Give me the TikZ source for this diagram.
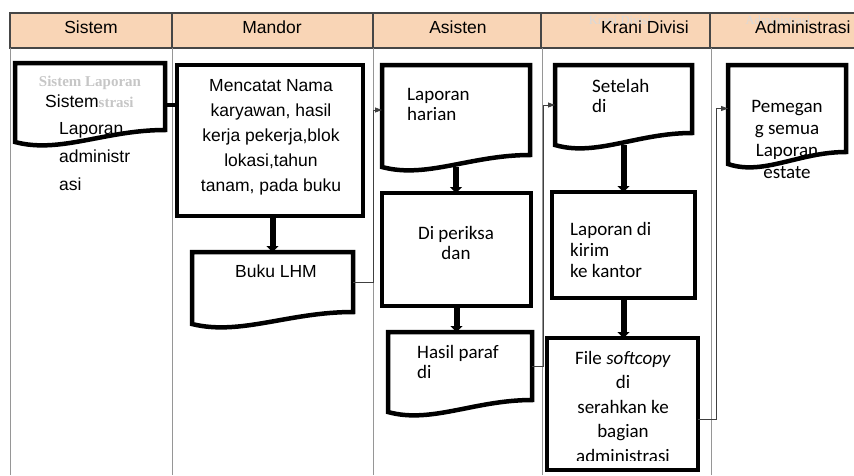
\documentclass[tikz,border=0pt]{standalone}
\usepackage{fontspec}
\setmainfont{Liberation Sans}
\newfontfamily\calfont{Carlito}
\newfontfamily\ghostfont{Liberation Serif}
\usetikzlibrary{positioning,calc,arrows.meta}

\definecolor{headfill}{RGB}{249,213,182}
\definecolor{laneline}{RGB}{150,150,150}
\definecolor{headline}{RGB}{70,70,70}

\tikzset{
  procbox/.style={draw, line width=4.5pt, rectangle, inner sep=0pt, outer sep=0pt},
  docnode/.style={rectangle, inner sep=0pt, outer sep=0pt},
  shapeline/.style={line width=4.5pt},
  bigarrow/.style={line width=6pt, -{Triangle[length=6pt,width=12pt]}},
  flowline/.style={line width=0.8pt, draw=black!75, -{Triangle[length=7pt,width=5pt]}},
  headtxt/.style={font=\fontsize{17.5}{20}\selectfont, inner sep=0pt},
  arialtxt/.style={font=\fontsize{17.5}{25}\selectfont, inner sep=0pt},
  caltxt/.style={font=\calfont\fontsize{19}{21}\selectfont, inner sep=0pt},
  ghosttxt/.style={font=\ghostfont\bfseries\fontsize{15}{17}\selectfont, text=gray!45, inner sep=0pt},
  ghostsmall/.style={font=\ghostfont\fontsize{12.5}{14}\selectfont, text=gray!30, inner sep=0pt}
}

% outline of a document symbol round an empty node
\newcommand{\docoutline}[1]{%
  \draw[shapeline] (#1.north west) -- (#1.north east) -- (#1.south east)
    .. controls ($(#1.south west)!0.6!(#1.south east)$) and ($(#1.south west)!0.3!(#1.south east)+(0pt,-24pt)$)
    .. ([yshift=-12pt]#1.south west) -- cycle;}

\begin{document}
\begin{tikzpicture}[x=1pt, y=-1pt]
  \useasboundingbox (0,0) rectangle (854,475);

  % lanes
  \fill[headfill] (10,13) rectangle (854,48);
  \draw[headline, line width=1.3pt] (854,13) -- (10,13) -- (10,48) -- (854,48);
  \foreach \lx in {172,373,541,710}
    \draw[headline, line width=1.3pt] (\lx,13) -- (\lx,48);
  \foreach \lx in {10,172,373,542,711}
    \draw[laneline, line width=0.9pt] (\lx,48) -- (\lx,475);

  \node[ghostsmall] (ghkra) at (620,20) {Krani Divisi};
  \node[ghostsmall] (ghadm) at (778,20) {Administrasi};
  \node[headtxt] (hsis) at (91,27) {Sistem};
  \node[headtxt] (hman) at (272,27) {Mandor};
  \node[headtxt] (hasi) at (458,27) {Asisten};
  \node[headtxt] (hkra) at (645,27) {Krani Divisi};
  \node[headtxt, anchor=west] (hadm) at (755,27) {Administrasi};

  % Sistem
  \node[docnode, minimum width=150pt, minimum height=67pt] (sis) at (90,96.5) {};
  \docoutline{sis}
  \node[ghosttxt] (ghsis1) at (90,83) {Sistem Laporan};
  \node[ghosttxt] (ghsis2) at (92,102) {Administrasi};
  \node[arialtxt, fill=white, anchor=north west] (sistxt) at (45,95) {Sistem};
  \node[arialtxt, font=\fontsize{17.5}{28}\selectfont, align=left, anchor=north west] (sistxt2) at (59,122) {Laporan\\administr\\asi};

  % Mandor
  \node[procbox, minimum width=186pt, minimum height=151pt] (mencatat) at (270,140.5) {};
  \node[arialtxt, align=center, anchor=north] (mencatatt) at (271,79)
    {Mencatat Nama\\karyawan, hasil\\kerja pekerja,blok\\lokasi,tahun\\tanam, pada buku};
  \node[docnode, minimum width=161pt, minimum height=60pt] (buku) at (272.5,282) {};
  \docoutline{buku}
  \node[arialtxt, anchor=north] (bukut) at (276,265) {Buku LHM};

  % Asisten
  \node[docnode, minimum width=148pt, minimum height=90pt] (harian) at (456,110) {};
  \docoutline{harian}
  \node[caltxt, font=\calfont\fontsize{19}{20}\selectfont, align=left, anchor=north west] (hariant) at (407,88) {Laporan\\harian};
  \node[procbox, minimum width=149pt, minimum height=113pt] (periksa) at (456.5,249.5) {};
  \node[caltxt, font=\calfont\fontsize{19}{20}\selectfont, align=center, anchor=north] (periksat) at (456,226) {Di periksa\\dan};
  \node[docnode, minimum width=144pt, minimum height=68pt] (hasil) at (460,366) {};
  \docoutline{hasil}
  \node[caltxt, font=\calfont\fontsize{19}{20}\selectfont, align=left, anchor=north west] (hasilt) at (417,345) {Hasil paraf\\di};

  % Krani Divisi
  \node[docnode, minimum width=137pt, minimum height=68pt] (setelah) at (623.5,99) {};
  \docoutline{setelah}
  \node[caltxt, font=\calfont\fontsize{19}{20}\selectfont, align=left, anchor=north west] (setelaht) at (592,79) {Setelah\\di};
  \node[procbox, minimum width=143pt, minimum height=106pt] (kirim) at (623.5,245) {};
  \node[caltxt, align=left, anchor=north west] (kirimt) at (570,222) {Laporan di\\kirim\\ke kantor};
  \node[procbox, minimum width=151pt, minimum height=132pt] (file) at (622.5,404) {};
  \begin{scope}
    \clip (file.north west) rectangle ([yshift=10pt]file.south east);
    \node[caltxt, font=\calfont\fontsize{19}{24.5}\selectfont, align=center, anchor=north] (filet) at (623,351)
      {File \textit{softcopy}\\di\\serahkan ke\\bagian\\administrasi};
  \end{scope}

  % Administrasi
  \node[docnode, minimum width=118pt, minimum height=87pt] (pemegang) at (787,108.5) {};
  \docoutline{pemegang}
  \node[caltxt, font=\calfont\fontsize{19}{22}\selectfont, align=center, anchor=north] (pemegangt) at (787,100)
    {Pemegan\\g semua\\Laporan\\estate};

  % connectors
  \coordinate (sisout) at ([yshift=-8.5pt]sis.east);
  \draw[line width=4.5pt] (sisout) -- (sisout -| mencatat.west);
  \draw[bigarrow] (mencatat.south -| buku.north) -- (buku.north);
  \draw[flowline] (buku.east) -- ++(20,0) |- (harian.west);
  \draw[bigarrow] ([yshift=-12pt]harian.south) -- (harian.south |- periksa.north);
  \draw[bigarrow] (periksa.south) -- (periksa.south |- hasil.north);
  \draw[flowline] (hasil.east) -- ++(11,0) |- ([yshift=-6pt]setelah.west);
  \draw[bigarrow] ([yshift=-12pt]setelah.south) -- (setelah.south |- kirim.north);
  \draw[bigarrow] (kirim.south) -- (kirim.south |- file.north);
  \coordinate (fileout) at ([yshift=-15pt]file.east);
  \draw[flowline] (fileout) -- ++(18,0) |- (pemegang.west);
\end{tikzpicture}
\end{document}
